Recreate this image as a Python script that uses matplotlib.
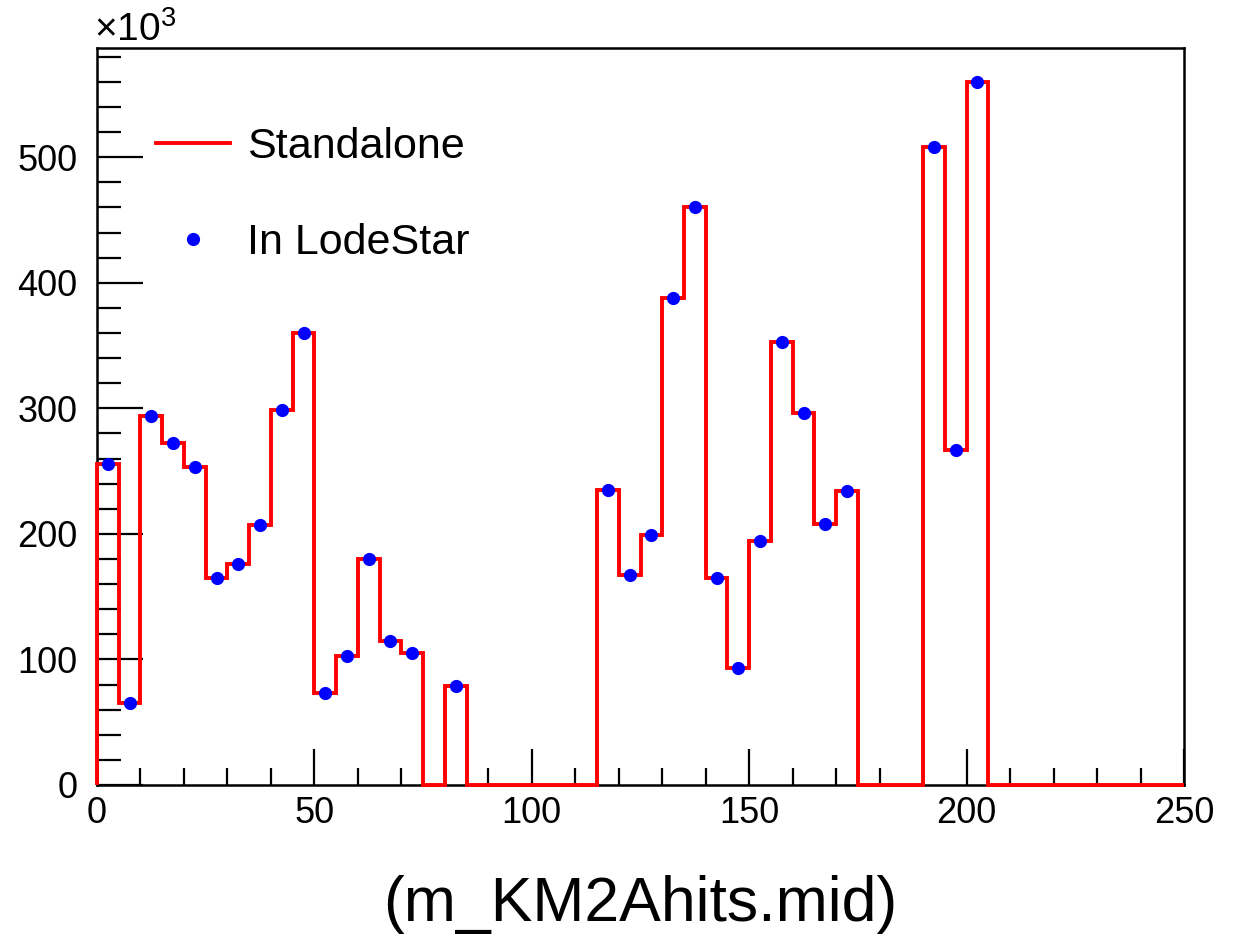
import matplotlib
matplotlib.use("Agg")
import matplotlib.pyplot as plt
from matplotlib.ticker import MultipleLocator
import numpy as np

plt.rcParams['font.family'] = ['Liberation Sans', 'DejaVu Sans']
plt.rcParams['mathtext.fontset'] = 'custom'
plt.rcParams['mathtext.rm'] = 'Liberation Sans'

# bin edges of m_KM2Ahits.mid (width 5, 0..250)
bin_edges = np.arange(0, 255, 5)
# entries per bin, in units of 10^3
standalone = [256, 65, 294, 272, 253, 165, 176, 207, 299, 360,
              73, 103, 180, 115, 105, 0, 79, 0, 0, 0,
              0, 0, 0, 235, 167, 199, 388, 460, 165, 93,
              194, 353, 296, 208, 234, 0, 0, 0, 508, 267,
              560, 0, 0, 0, 0, 0, 0, 0, 0, 0]
lodestar = [256, 65, 294, 272, 253, 165, 176, 207, 299, 360,
            73, 103, 180, 115, 105, 0, 79, 0, 0, 0,
            0, 0, 0, 235, 167, 199, 388, 460, 165, 93,
            194, 353, 296, 208, 234, 0, 0, 0, 508, 267,
            560, 0, 0, 0, 0, 0, 0, 0, 0, 0]

centers = 0.5 * (bin_edges[:-1] + bin_edges[1:])
lode = np.array(lodestar, dtype=float)
keep = lode > 0

fig = plt.figure(figsize=(12.36, 9.4), dpi=100)
ax = fig.add_axes([97 / 1236, 155 / 940, 1087 / 1236, 737 / 940])

ax.stairs(standalone, bin_edges, color='#ff0000', lw=2.8, baseline=0,
          zorder=3, clip_on=False, label='Standalone')
ax.plot(centers[keep], lode[keep], 'o', color='#0000ff', ms=9.5, mew=0,
        zorder=4, label='In LodeStar')

ax.set_xlim(0, 250)
ax.set_ylim(0, 587)

for sp in ax.spines.values():
    sp.set_linewidth(1.8)
    sp.set_color('black')

ax.xaxis.set_major_locator(MultipleLocator(50))
ax.xaxis.set_minor_locator(MultipleLocator(10))
ax.yaxis.set_major_locator(MultipleLocator(100))
ax.yaxis.set_minor_locator(MultipleLocator(20))
ax.tick_params(axis='x', which='major', direction='in', length=26, width=1.6,
               labelsize=26, pad=8)
ax.tick_params(axis='x', which='minor', direction='in', length=12, width=1.6)
ax.tick_params(axis='y', which='major', direction='in', length=33, width=1.6,
               labelsize=26, pad=14)
ax.tick_params(axis='y', which='minor', direction='in', length=17, width=1.6)

# axis title sits well below the tick labels
fig.text(640 / 1236, 1 - 905 / 940, '(m_KM2Ahits.mid)', fontsize=45,
         ha='center', va='center')
fig.text(94 / 1236, 1 - 30 / 940, '×10$^{3}$', fontsize=28,
         ha='left', va='center')

ax.legend(loc='upper left', bbox_to_anchor=(0.023, 0.94), frameon=False,
          fontsize=31, handlelength=1.7, handletextpad=0.4,
          labelspacing=1.3, borderpad=0.3)

fig.savefig('out.png', dpi=100, facecolor='white')
